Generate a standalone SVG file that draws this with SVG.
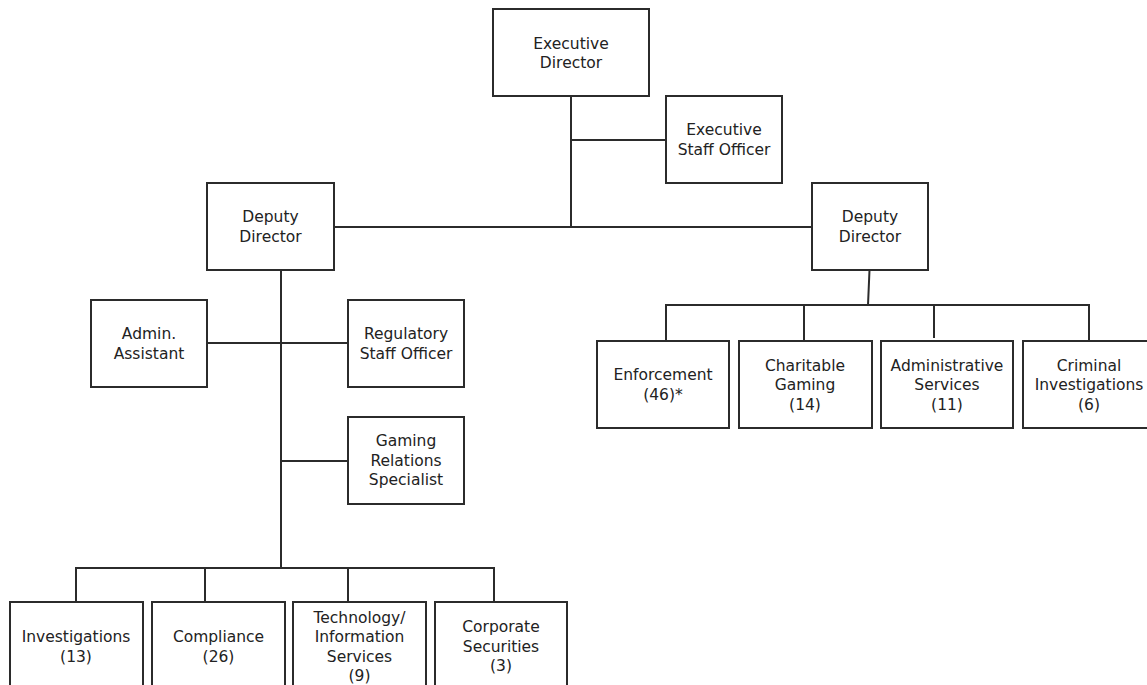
<svg xmlns="http://www.w3.org/2000/svg" width="1147" height="685" viewBox="0 0 1147 685">
<style>
.box{fill:#fff;stroke:#2b2b2b;stroke-width:2}
.ln{stroke:#2b2b2b;stroke-width:2;fill:none}
text{font-family:"DejaVu Sans","Liberation Sans",sans-serif;font-size:15.5px;fill:#222;text-anchor:middle}
</style>
<rect width="1147" height="685" fill="#fff"/>
<g id="connectors">
<path class="ln" d="M571 96V227M571 140H666M334 227H812"/>
<path class="ln" d="M281 270V568M207 343H348M281 461H348"/>
<path class="ln" d="M76 602V568H494V602M205 568V602M348 568V602"/>
<path class="ln" d="M869.5 270L868 305M666 341V305H1089V341M804 305V341M934 305V338"/>
</g>
<g id="exec-director"><rect class="box" x="493" y="9" width="156" height="87"/><text x="571" y="48.5">Executive</text><text x="571" y="68">Director</text></g>
<g id="exec-staff-officer"><rect class="box" x="666" y="96" width="116" height="87"/><text x="724" y="135">Executive</text><text x="724" y="154.5">Staff Officer</text></g>
<g id="deputy-left"><rect class="box" x="207" y="183" width="127" height="87"/><text x="270.5" y="222">Deputy</text><text x="270.5" y="241.5">Director</text></g>
<g id="deputy-right"><rect class="box" x="812" y="183" width="116" height="87"/><text x="870" y="222">Deputy</text><text x="870" y="241.5">Director</text></g>
<g id="admin-assistant"><rect class="box" x="91" y="300" width="116" height="87"/><text x="149" y="339">Admin.</text><text x="149" y="358.5">Assistant</text></g>
<g id="regulatory-staff-officer"><rect class="box" x="348" y="300" width="116" height="87"/><text x="406" y="339">Regulatory</text><text x="406" y="358.5">Staff Officer</text></g>
<g id="gaming-relations"><rect class="box" x="348" y="417" width="116" height="87"/><text x="406" y="446">Gaming</text><text x="406" y="465.5">Relations</text><text x="406" y="485">Specialist</text></g>
<g id="enforcement"><rect class="box" x="597" y="341" width="132" height="87"/><text x="663" y="380">Enforcement</text><text x="663" y="399.5">(46)*</text></g>
<g id="charitable-gaming"><rect class="box" x="739" y="341" width="133" height="87"/><text x="805" y="370.5">Charitable</text><text x="805" y="390">Gaming</text><text x="805" y="409.5">(14)</text></g>
<g id="administrative-services"><rect class="box" x="881" y="341" width="132" height="87"/><text x="947" y="370.5">Administrative</text><text x="947" y="390">Services</text><text x="947" y="409.5">(11)</text></g>
<g id="criminal-investigations"><rect class="box" x="1023" y="341" width="132" height="87"/><text x="1089" y="370.5">Criminal</text><text x="1089" y="390">Investigations</text><text x="1089" y="409.5">(6)</text></g>
<g id="investigations"><rect class="box" x="10" y="602" width="133" height="90"/><text x="76" y="642">Investigations</text><text x="76" y="661.5">(13)</text></g>
<g id="compliance"><rect class="box" x="152" y="602" width="133" height="90"/><text x="218.5" y="642">Compliance</text><text x="218.5" y="661.5">(26)</text></g>
<g id="technology"><rect class="box" x="293" y="602" width="133" height="90"/><text x="359.5" y="622.5">Technology/</text><text x="359.5" y="642">Information</text><text x="359.5" y="661.5">Services</text><text x="359.5" y="681">(9)</text></g>
<g id="corporate-securities"><rect class="box" x="435" y="602" width="132" height="90"/><text x="501" y="632">Corporate</text><text x="501" y="651.5">Securities</text><text x="501" y="671">(3)</text></g>
</svg>
